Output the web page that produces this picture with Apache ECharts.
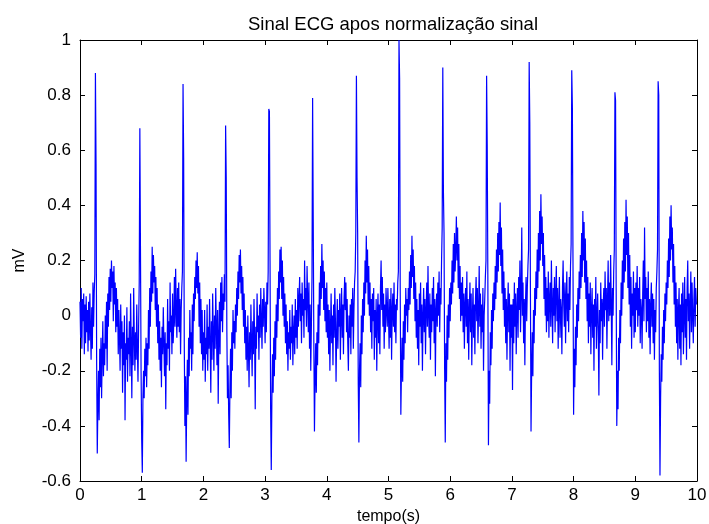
<!DOCTYPE html>
<html>
<head>
<meta charset="utf-8">
<title>Sinal ECG</title>
<script src="https://cdn.jsdelivr.net/npm/echarts@6/dist/echarts.min.js"></script>
<style>
  html, body { margin: 0; padding: 0; background: #fff; }
  #chart { width: 709px; height: 524px; }
</style>
</head>
<body>
<div id="chart"></div>
<script>
// amostras, 100 Hz, um array por segundo (mV)
const fs = 100
const sec0 = [0.05, -0.08, 0.1, -0.12, 0.06, -0.02, 0.08, -0.14, 0.04, -0.1,
  0.07, -0.06, 0.02, -0.13, 0.05, -0.09, 0.08, -0.05, -0.16, 0.03,
  -0.12, 0.12, -0.04, 0.08, 0.15, 0.88, 0.55, -0.18, -0.5, -0.32,
  -0.2, -0.38, -0.12, -0.26, -0.08, -0.3, -0.14, -0.02, -0.22, -0.1,
  -0.18, 0.0, -0.12, 0.05, -0.2, 0.08, -0.04, 0.14, 0.02, 0.17,
  0.05, 0.2, 0.1, 0.16, -0.02, 0.18, 0.04, 0.12, -0.06, 0.1,
  -0.04, 0.06, -0.14, 0.02, -0.08, -0.2, 0.04, -0.12, -0.02, -0.28,
  -0.06, -0.18, 0.0, -0.38, -0.1, -0.16, 0.03, -0.24, -0.08, -0.14,
  -0.02, -0.22, 0.08, -0.1, -0.3, -0.04, -0.18, 0.1, -0.08, -0.2,
  -0.06, -0.16, 0.04, -0.12, -0.24, -0.04, 0.12, 0.68, 0.24, -0.2]
const sec1 = [-0.45, -0.57, -0.3, -0.2, -0.3, -0.12, -0.22, -0.08, -0.26, -0.1,
  -0.18, 0.02, -0.12, 0.1, -0.04, 0.16, 0.05, 0.25, 0.08, 0.22,
  0.12, 0.18, 0.02, 0.14, -0.04, 0.1, -0.1, 0.04, -0.16, -0.02,
  -0.2, -0.08, -0.26, -0.04, -0.14, 0.03, -0.1, -0.22, -0.06, -0.34,
  -0.1, -0.18, 0.06, -0.12, -0.02, -0.2, 0.12, -0.06, 0.0, -0.14,
  0.08, -0.1, -0.02, 0.14, -0.04, 0.17, 0.02, -0.08, 0.1, -0.04,
  0.12, -0.06, 0.06, -0.14, 0.02, 0.1, 0.16, 0.84, 0.57, -0.1,
  -0.4, -0.22, -0.53, -0.3, -0.16, -0.36, -0.08, -0.22, 0.02, -0.12,
  -0.06, -0.2, 0.04, -0.14, 0.08, -0.02, 0.14, 0.06, 0.2, 0.1,
  0.23, 0.08, 0.18, -0.04, 0.12, -0.1, 0.06, -0.14, 0.02, -0.2]
const sec2 = [-0.06, -0.16, 0.02, -0.24, -0.08, -0.14, 0.04, -0.2, -0.04, -0.12,
  0.06, -0.1, -0.28, -0.02, -0.16, 0.08, -0.06, -0.2, 0.0, -0.12,
  0.1, -0.04, -0.18, 0.02, -0.32, -0.08, 0.05, -0.14, 0.12, -0.02,
  0.14, -0.06, 0.08, 0.02, 0.15, 0.05, 0.69, 0.5, -0.05, -0.3,
  -0.18, -0.36, -0.48, -0.26, -0.12, -0.3, -0.06, -0.2, 0.02, -0.1,
  -0.02, -0.12, 0.04, -0.06, 0.1, 0.0, 0.16, 0.06, 0.22, 0.12,
  0.24, 0.08, 0.18, 0.02, 0.14, -0.04, 0.08, -0.1, 0.02, -0.16,
  -0.04, -0.2, 0.0, -0.12, -0.26, -0.06, -0.16, 0.04, -0.1, -0.22,
  -0.02, -0.14, 0.06, -0.08, -0.34, -0.04, -0.12, 0.08, -0.06, 0.0,
  -0.16, 0.04, -0.08, 0.1, -0.02, -0.12, 0.06, -0.04, 0.1, 0.02]
const sec3 = [-0.1, 0.05, -0.06, 0.12, 0.04, 0.16, 0.75, 0.74, 0.2, -0.35,
  -0.56, -0.3, -0.14, -0.28, -0.08, -0.22, -0.02, -0.16, 0.04, -0.08,
  0.1, -0.02, 0.16, 0.06, 0.24, 0.12, 0.25, 0.06, 0.2, 0.0,
  0.14, -0.04, 0.08, -0.1, 0.04, -0.14, -0.02, -0.2, -0.06, -0.12,
  0.02, -0.16, -0.04, -0.1, 0.04, -0.18, -0.06, 0.0, -0.14, 0.06,
  -0.08, 0.02, -0.12, 0.1, -0.04, 0.06, 0.14, -0.02, 0.08, -0.1,
  0.12, 0.0, 0.06, -0.08, 0.2, 0.02, 0.1, -0.04, 0.18, 0.06,
  -0.06, 0.12, -0.12, 0.04, -0.2, -0.04, 0.14, 0.79, 0.35, -0.1,
  -0.42, -0.22, -0.1, -0.28, -0.06, -0.18, 0.04, -0.1, 0.12, 0.0,
  0.18, 0.06, 0.26, 0.1, 0.2, 0.02, 0.16, -0.02, 0.1, -0.06]
const sec4 = [0.12, -0.08, 0.04, -0.14, 0.02, -0.2, -0.04, 0.08, -0.1, 0.0,
  -0.18, 0.04, -0.08, 0.1, -0.02, -0.24, -0.06, 0.06, -0.12, 0.02,
  -0.04, 0.08, -0.16, 0.0, 0.1, -0.08, 0.04, -0.14, 0.06, 0.14,
  0.02, 0.12, -0.06, 0.06, -0.1, -0.2, 0.0, -0.08, 0.04, -0.14,
  0.06, -0.04, 0.1, -0.12, 0.02, 0.12, 0.16, 0.3, 0.87, 0.5,
  0.3, -0.25, -0.46, -0.2, -0.1, -0.26, 0.0, -0.14, 0.06, -0.06,
  0.12, 0.0, 0.2, 0.08, 0.29, 0.12, 0.24, 0.04, 0.18, 0.0,
  0.12, -0.06, 0.06, -0.12, 0.08, -0.02, 0.1, -0.16, 0.02, -0.08,
  0.06, -0.2, 0.0, 0.08, -0.1, 0.04, -0.14, 0.1, 0.2, 0.02,
  0.14, -0.04, 0.08, -0.12, 0.04, -0.06, 0.1, 0.02, -0.04, 0.1]
const sec5 = [0.0, -0.12, 0.06, -0.08, 0.1, -0.16, 0.02, 0.08, -0.04, 0.12,
  -0.06, 0.04, -0.1, 0.06, 0.02, 0.12, 0.16, 1.0, 0.86, 0.1,
  -0.36, -0.2, -0.08, -0.24, -0.02, -0.16, 0.04, -0.1, 0.1, 0.0,
  0.06, -0.06, 0.1, 0.02, 0.16, 0.04, 0.22, 0.1, 0.29, 0.14,
  0.24, 0.06, 0.18, -0.02, 0.12, -0.08, 0.06, -0.12, 0.02, -0.18,
  0.08, -0.04, 0.12, -0.1, 0.04, -0.2, 0.0, 0.1, -0.06, 0.06,
  -0.14, 0.02, 0.12, -0.04, 0.18, 0.0, -0.08, 0.08, -0.16, 0.04,
  -0.06, 0.1, -0.02, 0.14, -0.1, 0.06, -0.22, 0.02, 0.08, -0.04,
  0.12, 0.0, 0.16, -0.06, 0.1, 0.04, 0.2, 0.32, 0.9, 0.45,
  0.3, -0.2, -0.46, -0.1, -0.24, 0.0, -0.16, 0.04, -0.08, 0.1]
const sec6 = [-0.02, 0.12, 0.04, 0.2, 0.08, 0.26, 0.12, 0.3, 0.16, 0.24,
  0.36, 0.2, 0.32, 0.1, 0.26, 0.06, 0.18, -0.02, 0.12, 0.0,
  0.14, -0.06, 0.08, -0.12, 0.04, 0.1, -0.04, 0.16, -0.1, 0.06,
  -0.16, 0.02, 0.12, -0.06, 0.08, -0.18, 0.0, 0.1, -0.08, 0.04,
  -0.14, 0.06, 0.14, -0.02, 0.1, -0.1, 0.02, 0.18, -0.04, 0.08,
  -0.12, 0.04, -0.06, 0.1, -0.2, 0.0, 0.06, 0.14, 0.2, 0.87,
  0.62, 0.15, -0.47, -0.2, -0.32, -0.06, -0.18, 0.02, -0.12, 0.08,
  -0.02, 0.12, 0.02, 0.18, 0.06, 0.24, 0.12, 0.3, 0.16, 0.34,
  0.22, 0.41, 0.18, 0.32, 0.08, 0.24, 0.02, 0.16, -0.04, 0.1,
  -0.1, 0.06, -0.16, 0.02, 0.12, -0.06, 0.08, -0.2, 0.04, -0.08]
const sec7 = [0.04, -0.27, 0.06, -0.1, 0.12, -0.04, 0.08, -0.14, 0.02, 0.1,
  -0.08, 0.14, 0.02, 0.2, -0.06, 0.08, 0.32, 0.0, 0.12, -0.1,
  0.06, -0.18, 0.04, 0.14, -0.02, 0.1, 0.18, 0.24, 0.92, 0.7,
  0.1, -0.42, -0.2, -0.06, -0.22, 0.02, -0.1, 0.1, 0.0, 0.16,
  0.06, 0.24, 0.1, 0.3, 0.16, 0.38, 0.2, 0.44, 0.26, 0.36,
  0.18, 0.3, 0.06, 0.22, 0.0, 0.14, -0.06, 0.1, -0.02, 0.16,
  -0.08, 0.06, 0.12, -0.04, 0.2, 0.04, -0.1, 0.1, 0.0, 0.14,
  -0.06, 0.08, 0.18, -0.02, 0.1, -0.12, 0.04, 0.14, -0.08, 0.06,
  0.02, -0.14, 0.1, 0.2, 0.04, -0.04, 0.12, -0.1, 0.06, 0.16,
  -0.02, 0.08, -0.06, 0.14, 0.02, 0.18, 0.26, 0.89, 0.76, 0.2]
const sec8 = [-0.36, -0.12, -0.26, -0.04, -0.18, 0.04, -0.08, 0.1, -0.02, 0.16,
  0.06, 0.22, 0.1, 0.3, 0.14, 0.38, 0.2, 0.34, 0.12, 0.28,
  0.06, 0.2, -0.02, 0.14, -0.1, 0.08, -0.04, 0.12, -0.14, 0.02,
  0.1, -0.08, 0.04, -0.2, 0.06, -0.04, 0.14, -0.12, 0.0, 0.08,
  -0.06, -0.29, 0.02, -0.1, 0.12, -0.02, 0.06, -0.16, 0.04, 0.1,
  -0.04, 0.16, 0.02, 0.1, -0.12, 0.06, 0.2, -0.02, 0.12, 0.0,
  0.22, 0.04, -0.18, 0.1, 0.0, 0.16, 0.24, 0.81, 0.78, 0.1,
  -0.4, -0.2, -0.34, -0.08, -0.2, 0.02, -0.1, 0.12, 0.0, 0.2,
  0.06, 0.28, 0.12, 0.34, 0.16, 0.42, 0.22, 0.36, 0.1, 0.3,
  0.04, 0.22, -0.04, 0.14, -0.12, 0.08, 0.0, 0.16, -0.08, 0.1]
const sec9 = [-0.06, 0.12, 0.02, 0.18, -0.04, 0.1, 0.0, 0.14, -0.1, 0.06,
  0.02, -0.12, 0.08, 0.2, -0.02, 0.32, 0.06, 0.14, -0.06, 0.1,
  -0.02, 0.16, -0.08, 0.06, -0.14, 0.04, 0.12, -0.04, 0.08, -0.1,
  0.06, -0.16, 0.02, -0.06, 0.1, 0.16, 0.24, 0.85, 0.8, -0.2,
  -0.58, -0.3, -0.14, -0.24, -0.04, -0.16, 0.02, -0.1, 0.08, -0.02,
  0.12, 0.04, 0.2, 0.1, 0.28, 0.14, 0.36, 0.2, 0.4, 0.24,
  0.32, 0.12, 0.26, 0.04, 0.18, -0.04, 0.12, -0.1, 0.06, -0.16,
  0.02, 0.1, -0.12, 0.04, -0.18, 0.08, -0.06, 0.12, -0.14, 0.0,
  0.14, -0.08, 0.06, -0.16, 0.1, 0.2, -0.02, 0.08, -0.12, 0.04,
  0.16, -0.06, 0.12, 0.0, -0.1, 0.06, 0.14, -0.04, 0.1, 0.04]

const xTicks = [0, 10, 1]      // min, max, passo (s)
const yTicks = [-0.6, 1, 0.2]  // min, max, passo (mV)

const signal = [].concat(sec0, sec1, sec2, sec3, sec4, sec5, sec6, sec7, sec8, sec9)
const points = signal.map((v, i) => [i / fs, v])

const font = 'Liberation Sans, Arial, sans-serif'
const black = '#000'

const axisBase = {
  type: 'value',
  axisLine: { show: true, onZero: false, lineStyle: { color: black, width: 1 } },
  axisTick: { show: true, inside: true, length: 5, lineStyle: { color: black } },
  splitLine: { show: false }
}

function xAxis (position, labels) {
  return Object.assign({}, axisBase, {
    position,
    min: xTicks[0],
    max: xTicks[1],
    interval: xTicks[2],
    axisLabel: { show: labels, color: black, fontSize: 17, fontFamily: font, margin: 6 }
  })
}

function yAxis (position, labels) {
  return Object.assign({}, axisBase, {
    position,
    min: yTicks[0],
    max: yTicks[1],
    interval: yTicks[2],
    axisLabel: { show: labels, color: black, fontSize: 17, fontFamily: font, margin: 9 }
  })
}

const option = {
  animation: false,
  backgroundColor: '#fff',
  title: {
    text: 'Sinal ECG apos normalização sinal',
    left: 388,
    top: 10,
    textAlign: 'center',
    textStyle: { color: black, fontSize: 18.5, fontWeight: 'normal', fontFamily: font }
  },
  grid: { left: 80, right: 12, top: 40, bottom: 43, outerBoundsMode: 'none', containLabel: false },
  xAxis: [
    Object.assign(xAxis('bottom', true), {
      name: 'tempo(s)',
      nameLocation: 'middle',
      nameGap: 27,
      nameTextStyle: { color: black, fontSize: 16, fontFamily: font }
    }),
    xAxis('top', false)
  ],
  yAxis: [
    Object.assign(yAxis('left', true), {
      name: 'mV',
      nameLocation: 'middle',
      nameGap: 52,
      nameTextStyle: { color: black, fontSize: 16, fontFamily: font }
    }),
    yAxis('right', false)
  ],
  series: [
    {
      type: 'line',
      data: points,
      showSymbol: false,
      symbol: 'none',
      sampling: null,
      lineStyle: { color: '#0000ff', width: 1.2 },
      clip: true
    }
  ]
}

const chart = echarts.init(document.getElementById('chart'), null, { renderer: 'canvas' })
chart.setOption(option)
</script>
</body>
</html>
